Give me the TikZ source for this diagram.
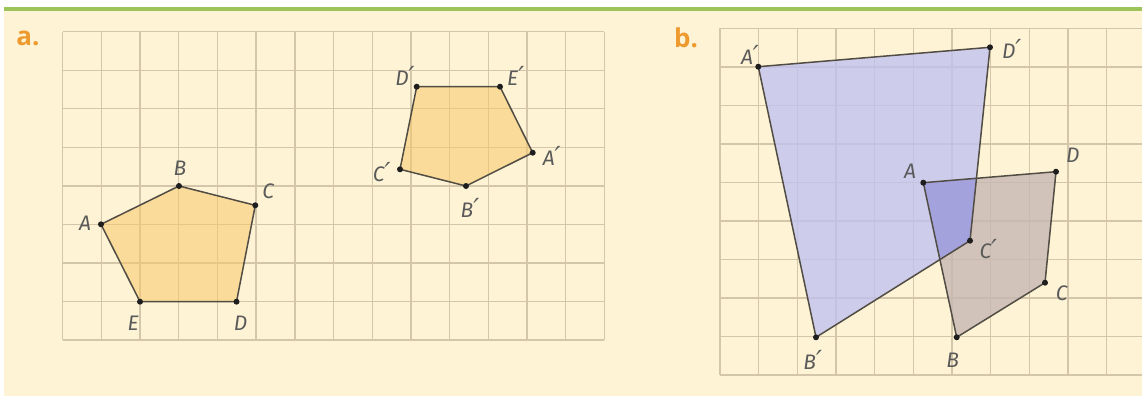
\documentclass[tikz,border=0pt]{standalone}
\usepackage{fontspec}
\setsansfont{Open Sans}
\newfontfamily\lblfont{Fira Sans}
\newfontfamily\primefont[Scale=1.25]{DejaVu Sans}
\newcommand\pr{{\primefont ′}}
\definecolor{cream}{HTML}{FEF3D5}
\definecolor{topgreen}{HTML}{9CC45A}
\definecolor{gridc}{HTML}{D3C6AA}
\definecolor{pentfill}{HTML}{F8C868}
\definecolor{edgec}{HTML}{524D44}
\definecolor{bluefill}{HTML}{C0C2F0}
\definecolor{greyfill}{HTML}{C6B7B2}
\definecolor{overfill}{HTML}{A4A2DC}
\definecolor{dotc}{HTML}{1E1E1E}
\definecolor{lblc}{HTML}{5A5A5A}
\definecolor{tagc}{HTML}{EE9A2E}
\begin{document}
\begin{tikzpicture}[x=1pt,y=-1pt,
  gridline/.style={draw=gridc, line width=1.4pt},
  pent/.style={fill=pentfill, fill opacity=0.55, draw=edgec, line width=1.5pt, line join=round},
  edge/.style={draw=edgec, line width=1.5pt, line join=round},
  dot/.style={circle, fill=dotc, inner sep=0pt, minimum size=6pt},
  lbl/.style={font=\lblfont\itshape\fontsize{21}{21}\selectfont, text=lblc, inner sep=0pt},
  tag/.style={font=\sffamily\bfseries\fontsize{26}{26}\selectfont, text=tagc, inner sep=0pt}]
\useasboundingbox (0,0) rectangle (1142,396);
\fill[white] (0,0) rectangle (1142,396);
\fill[cream] (4,11) rectangle (1142,396);
\fill[topgreen] (4,7) rectangle (1142,11);
% grid a
\foreach \i in {0,...,14} {\draw[gridline] ({62.7+\i*38.69},31.7) -- ({62.7+\i*38.69},340);}
\foreach \j in {0,...,8} {\draw[gridline] (62.7,{31.7+\j*38.54}) -- (604.3,{31.7+\j*38.54});}
% grid b
\foreach \i in {0,...,10} {\draw[gridline] ({720+\i*38.67},28.3) -- ({720+\i*38.67},375);}
\foreach \j in {0,...,9} {\draw[gridline] (720,{28.3+\j*38.52}) -- (1142,{28.3+\j*38.52});}
% tags
\node[tag] (taga) at (28,38) {a.};
\node[tag] (tagb) at (686,38) {b.};
% pentagon ABCDE
\coordinate (aA) at (101,224.3);
\coordinate (aB) at (179,186);
\coordinate (aC) at (255.3,205.3);
\coordinate (aD) at (236.5,301.7);
\coordinate (aE) at (140,301.7);
\draw[pent] (aA) -- (aB) -- (aC) -- (aD) -- (aE) -- cycle;
% pentagon A'B'C'D'E'
\coordinate (aA1) at (532.7,152.7);
\coordinate (aB1) at (466,186);
\coordinate (aC1) at (400,169.3);
\coordinate (aD1) at (416.7,86.7);
\coordinate (aE1) at (500,86.7);
\draw[pent] (aA1) -- (aB1) -- (aC1) -- (aD1) -- (aE1) -- cycle;
% quadrilaterals b
\coordinate (bA) at (923.3,182.7);
\coordinate (bB) at (956.7,337.3);
\coordinate (bC) at (1045,282.7);
\coordinate (bD) at (1056,171.7);
\coordinate (bA1) at (758.3,66.7);
\coordinate (bB1) at (816,337.3);
\coordinate (bC1) at (970,240.7);
\coordinate (bD1) at (990,47.3);
\fill[greyfill, fill opacity=0.8] (bA) -- (bB) -- (bC) -- (bD) -- cycle;
\fill[bluefill, fill opacity=0.78] (bA1) -- (bB1) -- (bC1) -- (bD1) -- cycle;
\begin{scope}
  \clip (bA) -- (bB) -- (bC) -- (bD) -- cycle;
  \fill[overfill] (bA1) -- (bB1) -- (bC1) -- (bD1) -- cycle;
\end{scope}
\draw[edge] (bA) -- (bB) -- (bC) -- (bD) -- cycle;
\draw[edge] (bA1) -- (bB1) -- (bC1) -- (bD1) -- cycle;
% dots
\foreach \p in {aA,aB,aC,aD,aE,aA1,aB1,aC1,aD1,aE1,bA,bB,bC,bD,bA1,bB1,bC1,bD1}
  {\node[dot] (dot\p) at (\p) {};}
% labels a
\node[lbl] (lA) at (85,223.3) {A};
\node[lbl] (lB) at (180,168.3) {B};
\node[lbl] (lC) at (268.3,191.7) {C};
\node[lbl] (lD) at (240.7,323.3) {D};
\node[lbl] (lE) at (133.3,323.3) {E};
\node[lbl] (lA1) at (551.7,156) {A\pr};
\node[lbl] (lB1) at (470,208.3) {B\pr};
\node[lbl] (lC1) at (381.7,171.7) {C\pr};
\node[lbl] (lD1) at (405,76) {D\pr};
\node[lbl] (lE1) at (515.7,76) {E\pr};
% labels b
\node[lbl] (mA1) at (750,55) {A\pr};
\node[lbl] (mD1) at (1011.7,49.3) {D\pr};
\node[lbl] (mA) at (910,171.7) {A};
\node[lbl] (mD) at (1072.7,155) {D};
\node[lbl] (mC1) at (988.3,249.3) {C\pr};
\node[lbl] (mC) at (1061.7,293.3) {C};
\node[lbl] (mB1) at (812.7,360) {B\pr};
\node[lbl] (mB) at (952.7,360) {B};
\end{tikzpicture}
\end{document}
